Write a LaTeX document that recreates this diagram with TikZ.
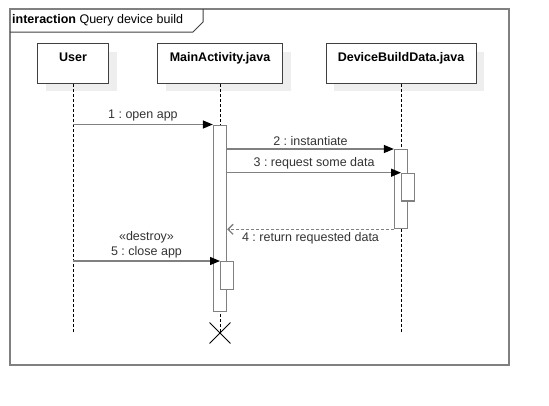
\documentclass[tikz,border=0pt]{standalone}
\usepackage{fontspec}
\setmainfont{Liberation Sans}
\usetikzlibrary{arrows.meta,positioning,shadows,shapes.misc}
\definecolor{umlline}{HTML}{808080}
\definecolor{umltext}{HTML}{333333}
\definecolor{umlshadow}{HTML}{EEEEEE}
\frenchspacing

\begin{document}
\begin{tikzpicture}[x=1pt, y=-1pt, >=latex, node distance=150pt, on grid,
  font=\fontsize{12.5}{15}\selectfont,
  head/.style={draw=black!75, fill=white, line width=1pt, minimum height=39pt, inner ysep=0pt,
    text height=17.6pt, text depth=22pt, font=\fontsize{12.5}{15}\selectfont\bfseries,
    drop shadow={shadow xshift=8pt, shadow yshift=-8pt, fill=umlshadow, opacity=1}},
  act/.style={draw=umlline, fill=white, line width=1.3pt, minimum width=13pt, inner sep=0pt, anchor=north},
  life/.style={dash pattern=on 3pt off 2pt, line width=0.9pt},
  msg/.style={draw=umlline, line width=1.3pt, -{Triangle[length=10pt,width=8pt,black]}},
  reply/.style={draw=umlline, line width=1.3pt, dash pattern=on 3pt off 2pt, -{Straight Barb[length=5pt,width=10pt]}},
  lbl/.style={text=umltext, inner sep=2.5pt}]
\useasboundingbox (0,0) rectangle (549,405);

% frame
\draw[umlline, line width=1.3pt] (10,9) rectangle (509,365);
\draw[black!75, line width=1pt] (10,32) -- (193,32) -- (203,22) -- (203,9);
\node[anchor=west, inner sep=0pt] (title) at (12,20.5) {\textbf{interaction} Query device build};

% heads
\node[head, minimum width=71pt] (user) at (73,63.5) {User};
\node[head, minimum width=125pt, right=147pt of user] (main) {MainActivity.java};
\node[head, minimum width=150pt, right=181pt of main] (dev) {DeviceBuildData.java};

\node[draw, cross out, line width=0.9pt, minimum size=20pt, inner sep=0pt] (destroy) at (main |- 0,333) {};

% lifelines
\draw[life] (user) -- (user |- destroy);
\draw[life] (main) -- (destroy.center);
\draw[life] (dev) -- (dev |- destroy);

% activations
\node[act, minimum height=186.5pt] (mainact) at (main |- 0,124.5) {};
\node[act, minimum height=28pt, anchor=north west] (mainsub) at (main |- 0,261) {};
\node[act, minimum height=79pt] (devact) at (dev |- 0,149) {};
\node[act, minimum height=27.5pt, anchor=north west] (devsub) at (dev |- 0,172.7) {};

% messages
\draw[msg] (user |- mainact.north) -- node[lbl, above]{1 : open app} (mainact.north west);
\draw[msg] (mainact.east |- devact.north) -- node[lbl, above]{2 : instantiate} (devact.north west);
\draw[msg] (mainact.east |- devsub.north) -- node[lbl, above]{3 : request some data} (devsub.north west);
\draw[reply] (devact.south west) -- node[lbl, below]{4 : return requested data} (mainact.east |- devact.south);
\draw[msg] (user |- mainsub.north) -- node[lbl, above, align=center]{«destroy»\\5 : close app} (mainsub.north west);
\end{tikzpicture}
\end{document}
